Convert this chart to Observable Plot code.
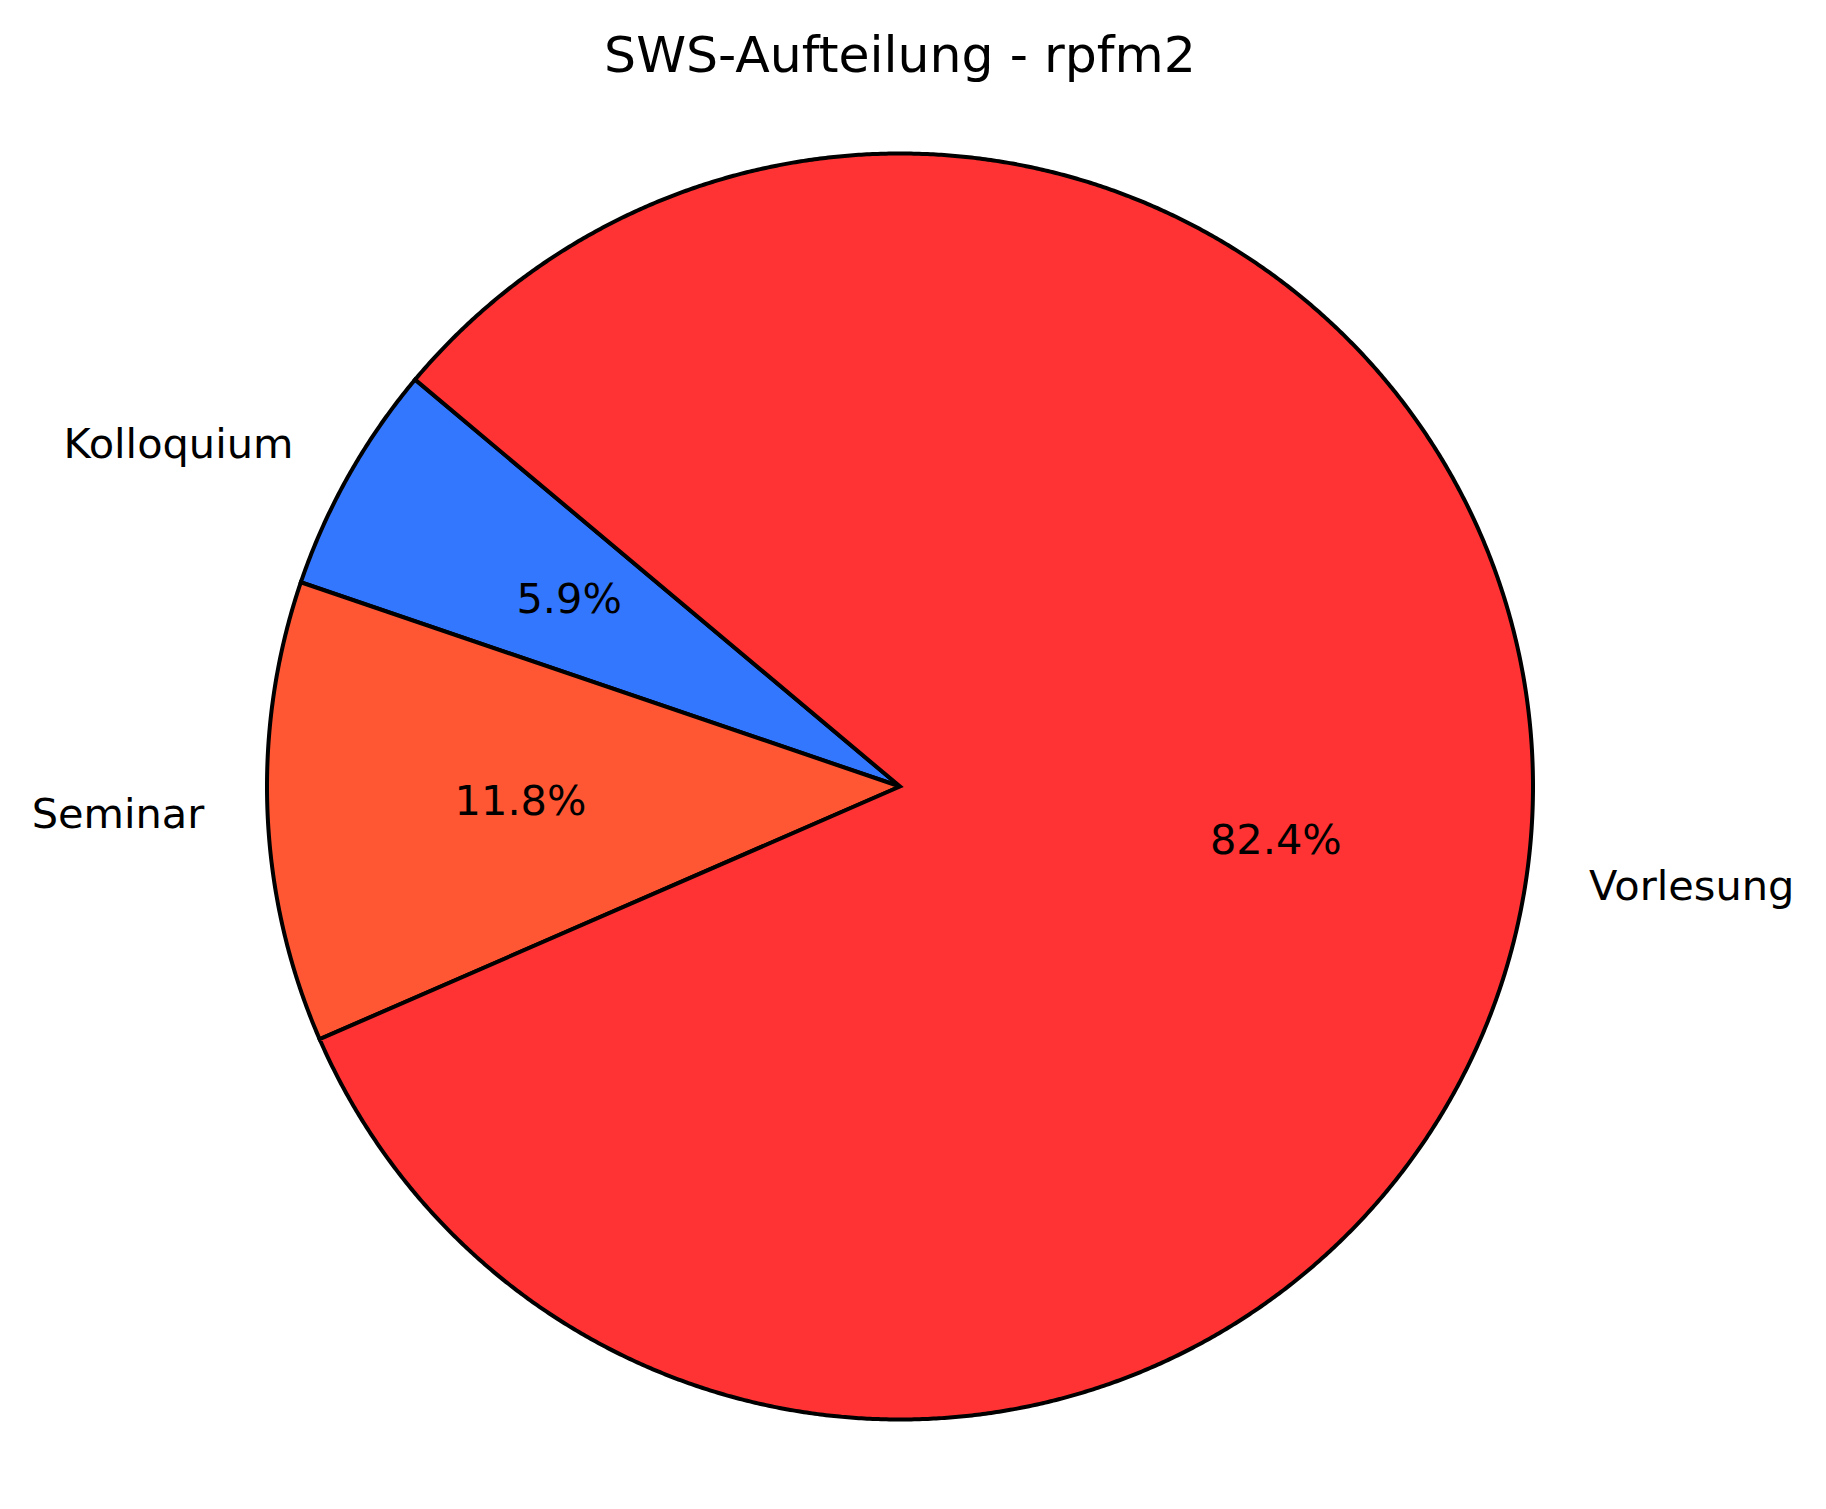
<!DOCTYPE html>
<html>
<head>
<meta charset="utf-8">
<script src="https://cdn.jsdelivr.net/npm/d3@7"></script>
<script src="https://cdn.jsdelivr.net/npm/@observablehq/plot@0.6"></script>
<style>
  html, body { margin: 0; padding: 0; background: #fff; }
  svg { display: block; }
</style>
</head>
<body>
<div id="chart"></div>
<script>
const title = "SWS-Aufteilung - rpfm2";
const categories = ["Kolloquium", "Seminar", "Vorlesung"];
const values = [1, 2, 14];
const colors = ["#3377FF", "#FF5733", "#FF3333"];
const startAngle = 140;

const total = d3.sum(values);
let acc = startAngle;
const wedges = categories.map((c, i) => {
  const a0 = acc;
  const a1 = acc + values[i] / total * 360;
  acc = a1;
  return {label: c, value: values[i], a0, a1, mid: (a0 + a1) / 2};
});

const rad = (d) => d * Math.PI / 180;
const polyPts = [];
for (const w of wedges) {
  polyPts.push({label: w.label, x: 0, y: 0});
  const n = Math.max(2, Math.ceil((w.a1 - w.a0) / 0.25));
  for (let k = 0; k <= n; k++) {
    const a = rad(w.a0 + (w.a1 - w.a0) * k / n);
    polyPts.push({label: w.label, x: Math.cos(a), y: Math.sin(a)});
  }
}

const labelPts = wedges.map(w => ({
  label: w.label,
  x: 1.1 * Math.cos(rad(w.mid)),
  y: 1.1 * Math.sin(rad(w.mid)),
  px: 0.6 * Math.cos(rad(w.mid)),
  py: 0.6 * Math.sin(rad(w.mid)),
  pct: (w.value / total * 100).toFixed(1) + "%"
}));

const W = 1826, H = 1509, cx = 899.5, cy = 786, R = 633;

const chart = Plot.plot({
  width: W,
  height: H,
  margin: 0,
  style: {fontFamily: "DejaVu Sans", background: "#fff"},
  x: {domain: [-cx / R, (W - cx) / R], range: [0, W], axis: null},
  y: {domain: [-(H - cy) / R, cy / R], range: [H, 0], axis: null},
  color: {domain: categories, range: colors},
  marks: [
    Plot.line(polyPts, {
      x: "x", y: "y", z: "label", fill: "label",
      stroke: "black", strokeWidth: 4, curve: "linear-closed",
      strokeLinejoin: "miter", strokeMiterlimit: 10
    }),
    Plot.text(labelPts.filter(d => d.x >= 0), {
      x: "x", y: "y", text: "label", textAnchor: "start", lineAnchor: "middle",
      fontSize: 41.5, fill: "black"
    }),
    Plot.text(labelPts.filter(d => d.x < 0), {
      x: "x", y: "y", text: "label", textAnchor: "end", lineAnchor: "middle",
      fontSize: 41.5, fill: "black"
    }),
    Plot.text(labelPts, {
      x: "px", y: "py", text: "pct", textAnchor: "middle", lineAnchor: "middle",
      fontSize: 41.5, fill: "black"
    }),
    Plot.text([title], {
      x: () => 0, frameAnchor: "top", dy: 55, text: d => d, textAnchor: "middle",
      lineAnchor: "middle", fontSize: 50.5, fill: "black"
    })
  ]
});
document.getElementById("chart").appendChild(chart);
</script>
</body>
</html>
